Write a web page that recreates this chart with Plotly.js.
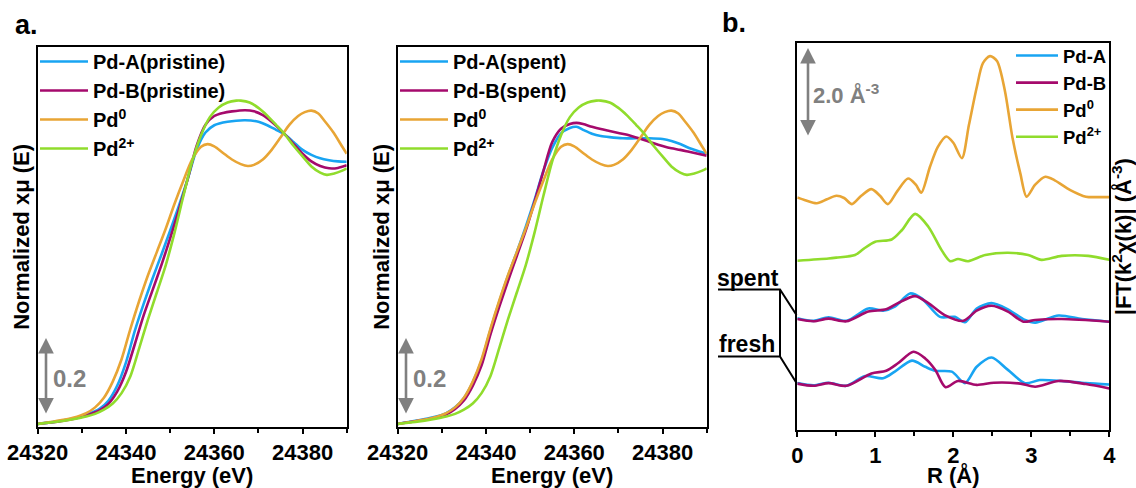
<!DOCTYPE html>
<html><head><meta charset="utf-8">
<script src="https://cdn.plot.ly/plotly-3.0.1.min.js"></script>
<style>html,body{margin:0;padding:0;background:#fff}#chart{width:1136px;height:488px}</style>
</head><body><div id="chart"></div>
<script>
// ---------- XANES (panel a) ----------
const pd0E  = [24320,24324,24328,24331,24333,24335,24337,24339,24341,24343,24345,24347,24349,24351,24353,24355,24357,24358.5,24360,24362,24364,24366,24367.6,24369,24371,24373,24375,24377,24379,24380.5,24382,24383.5,24385,24387,24389,24390];
const pd0Mu = [.008,.015,.024,.036,.051,.076,.118,.176,.255,.328,.395,.455,.515,.58,.64,.695,.728,.735,.729,.712,.695,.683,.678,.681,.695,.72,.752,.785,.808,.818,.822,.815,.795,.765,.728,.71];

const pd2E  = [24320,24324,24328,24331,24333,24335,24337,24339,24341,24343,24345,24347,24349,24351,24353,24355,24357,24359,24361,24363,24365,24366,24368,24370,24372,24374,24376,24378,24380,24382,24384,24385.5,24387,24389,24390];
const pd2Mu = [.008,.013,.02,.027,.034,.045,.061,.088,.132,.205,.28,.35,.42,.505,.6,.69,.758,.805,.83,.843,.848,.848,.843,.829,.809,.785,.76,.73,.703,.677,.661,.655,.658,.666,.672];

const pdAPristineE  = [24320,24324,24328,24331,24334,24336,24338,24340,24342,24344,24346,24348,24350,24352,24354,24356,24358,24360,24363,24367,24370,24372,24374,24376,24378,24380,24382,24384,24386,24388,24390];
const pdAPristineMu = [.008,.014,.022,.032,.047,.068,.107,.168,.25,.32,.385,.447,.51,.575,.645,.72,.765,.784,.793,.797,.793,.784,.772,.76,.74,.72,.707,.698,.693,.69,.689];

const pdBPristineE  = [24320,24324,24328,24331,24334,24336,24338,24340,24342,24344,24346,24348,24350,24352,24354,24356,24358,24360,24362,24364,24367,24369,24371,24373,24375,24376,24378,24380,24382,24384,24386,24388,24390];
const pdBPristineMu = [.008,.013,.021,.03,.043,.06,.092,.143,.215,.29,.355,.42,.49,.565,.645,.73,.785,.808,.816,.82,.823,.82,.81,.793,.772,.76,.735,.71,.69,.678,.672,.673,.68];

const pdASpentE  = [24320,24324,24328,24331,24333,24335,24337,24339,24341,24343,24345,24347,24349,24351,24353,24355,24357,24359,24360.5,24362,24364,24366,24368,24371,24374,24377,24380,24382,24384,24386,24388,24390];
const pdASpentMu = [.008,.016,.025,.036,.051,.075,.116,.172,.252,.325,.393,.455,.52,.59,.665,.725,.763,.777,.78,.772,.762,.756,.753,.75,.75,.75,.748,.743,.735,.725,.717,.71];

const pdBSpentE  = [24320,24324,24328,24331,24333,24335,24337,24339,24341,24343,24345,24347,24349,24351,24353,24355,24357,24359,24360.5,24362,24364,24366,24368,24370,24372,24374,24376,24378,24380,24382,24384,24386,24388,24390];
const pdBSpentMu = [.008,.015,.023,.033,.047,.069,.107,.16,.24,.312,.38,.445,.51,.585,.665,.74,.775,.787,.79,.787,.78,.774,.769,.764,.759,.752,.745,.737,.73,.724,.72,.715,.71,.705];

// ---------- FT-EXAFS (panel b), stacked with offsets as drawn ----------
const ftPd0R = [0,0.1,0.25,0.38,0.5,0.6,0.7,0.82,0.95,1.06,1.16,1.28,1.42,1.52,1.59,1.7,1.8,1.91,2.0,2.11,2.2,2.3,2.38,2.47,2.56,2.66,2.76,2.86,2.94,3.05,3.18,3.3,3.5,3.7,3.85,4.0];
const ftPd0  = [5.26,5.2,5.13,5.22,5.30,5.25,5.11,5.3,5.45,5.3,5.11,5.4,5.69,5.55,5.37,5.95,6.4,6.64,6.5,6.15,6.9,7.75,8.3,8.46,8.35,7.69,6.6,5.8,5.28,5.55,5.73,5.65,5.43,5.28,5.27,5.27];

const ftPd2R = [0,0.4,0.5,0.74,0.85,1.0,1.21,1.34,1.51,1.68,1.85,1.96,2.06,2.19,2.41,2.7,2.96,3.13,3.39,3.73,4.0];
const ftPd2  = [3.83,3.88,3.9,3.96,4.1,4.26,4.31,4.52,4.89,4.60,4.07,3.82,3.87,3.82,3.96,4.01,3.96,3.85,3.94,3.94,3.85];

const ftASpentR = [0,0.21,0.4,0.63,0.91,1.1,1.25,1.445,1.595,1.83,2.02,2.15,2.3,2.49,2.7,2.92,3.05,3.35,3.65,4.0];
const ftASpent  = [2.53,2.47,2.55,2.47,2.75,2.70,2.79,3.09,2.98,2.56,2.56,2.44,2.75,2.87,2.73,2.49,2.43,2.59,2.51,2.45];
const ftBSpentR = [0,0.21,0.4,0.63,0.91,1.14,1.29,1.51,1.68,1.89,2.13,2.3,2.49,2.7,2.9,3.05,3.39,4.0];
const ftBSpent  = [2.51,2.46,2.52,2.46,2.68,2.73,2.87,3.03,2.87,2.60,2.47,2.70,2.81,2.68,2.45,2.49,2.51,2.45];
const ftAFreshR = [0,0.21,0.4,0.63,0.87,1.1,1.25,1.47,1.64,1.77,1.98,2.15,2.3,2.49,2.7,2.92,3.11,3.39,3.7,4.0];
const ftAFresh  = [1.06,1.01,1.07,1.00,1.22,1.17,1.32,1.57,1.43,1.34,1.32,1.06,1.43,1.64,1.36,1.06,1.13,1.11,1.06,1.03];
const ftBFreshR = [0,0.21,0.4,0.63,0.95,1.14,1.29,1.49,1.64,1.77,1.90,2.06,2.3,2.52,2.86,3.05,3.35,3.7,4.0];
const ftBFresh  = [1.05,1.00,1.06,1.00,1.28,1.34,1.51,1.77,1.62,1.36,0.97,1.11,1.02,1.07,1.05,0.98,1.11,1.04,0.94];

const namesA1 = ['Pd-A(pristine)','Pd-B(pristine)','Pd<sup>0</sup>','Pd<sup>2+</sup>'];
const namesA2 = ['Pd-A(spent)','Pd-B(spent)','Pd<sup>0</sup>','Pd<sup>2+</sup>'];
const namesB  = ['Pd-A','Pd-B','Pd<sup>0</sup>','Pd<sup>2+</sup>'];

const BLUE='#18a4f2', MAG='#a50a6c', ORA='#e8a535', GRN='#90dc2c', GRAY='#808080';
const FAM='Liberation Sans, Arial, sans-serif';
const W=1136, H=488;
const px=x=>x/W, py=y=>1-y/H;

function ln(x,y,name,color,xa,ya,leg,show=true,group){
  return {x:x,y:y,name:name,type:'scatter',mode:'lines',xaxis:xa,yaxis:ya,legend:leg,
    showlegend:show,legendgroup:group||name+xa,
    line:{color:color,width:2.6,shape:'spline',smoothing:0.8},hoverinfo:'skip'};
}
const traces=[
  ln(pdAPristineE,pdAPristineMu,namesA1[0],BLUE,'x','y','legend'),
  ln(pdBPristineE,pdBPristineMu,namesA1[1],MAG,'x','y','legend'),
  ln(pd0E,pd0Mu,namesA1[2],ORA,'x','y','legend'),
  ln(pd2E,pd2Mu,namesA1[3],GRN,'x','y','legend'),
  ln(pdASpentE,pdASpentMu,namesA2[0],BLUE,'x2','y2','legend2'),
  ln(pdBSpentE,pdBSpentMu,namesA2[1],MAG,'x2','y2','legend2'),
  ln(pd0E,pd0Mu,namesA2[2],ORA,'x2','y2','legend2'),
  ln(pd2E,pd2Mu,namesA2[3],GRN,'x2','y2','legend2'),
  ln(ftASpentR,ftASpent,namesB[0],BLUE,'x3','y3','legend3',true,'bA'),
  ln(ftBSpentR,ftBSpent,namesB[1],MAG,'x3','y3','legend3',true,'bB'),
  ln(ftPd0R,ftPd0,namesB[2],ORA,'x3','y3','legend3'),
  ln(ftPd2R,ftPd2,namesB[3],GRN,'x3','y3','legend3'),
  ln(ftAFreshR,ftAFresh,namesB[0],BLUE,'x3','y3','legend3',false,'bA'),
  ln(ftBFreshR,ftBFresh,namesB[1],MAG,'x3','y3','legend3',false,'bB')
];

const bold=(s,c)=>({family:FAM,size:s,color:c||'#000',weight:700});
const frame={showline:true,mirror:true,linecolor:'#000',linewidth:2,showgrid:false,zeroline:false,automargin:false};
function xax(dom,range,dtick,minor,title,anchor,fmt){
  return Object.assign({},frame,{domain:dom,range:range,anchor:anchor,tick0:range[0],dtick:dtick,
    tickformat:fmt||'',ticks:'outside',ticklen:5,tickwidth:2,tickcolor:'#000',
    minor:{dtick:minor,ticks:'outside',ticklen:4,tickwidth:2,tickcolor:'#000'},
    tickfont:bold(22),ticklabelstandoff:0,title:{text:title,font:bold(22),standoff:7}});
}
function yax(dom,range,title,anchor,side,so){
  return Object.assign({},frame,{domain:dom,range:range,anchor:anchor,side:side||'left',
    showticklabels:false,ticks:'',title:{text:title,font:bold(22),standoff:so}});
}
const legStyle=(x,y,size,iw)=>({x:px(x),y:py(y),xanchor:'left',yanchor:'top',bgcolor:'rgba(0,0,0,0)',
  borderwidth:0,font:bold(size),itemwidth:iw,tracegroupgap:0});

function arrow(x,y0,y1){
  return {xref:'paper',yref:'paper',x:px(x),y:py(y0),ax:0,ay:y1-y0,axref:'pixel',ayref:'pixel',text:'',
    showarrow:true,arrowside:'end+start',arrowhead:2,startarrowhead:2,arrowsize:1.2,startarrowsize:1.2,
    arrowwidth:2.6,arrowcolor:GRAY,standoff:0,startstandoff:0};
}
function label(x,y,text,size,color,xanchor){
  return {xref:'paper',yref:'paper',x:px(x),y:py(y),text:text,showarrow:false,
    xanchor:xanchor||'left',yanchor:'middle',font:bold(size,color)};
}

const layout={
  width:W,height:H,margin:{l:0,r:0,t:0,b:0},paper_bgcolor:'#fff',plot_bgcolor:'#fff',
  xaxis:xax([px(37.7),px(346.7)],[24320,24390],20,10,'Energy (eV)','y','d'),
  yaxis:yax([py(427),py(46.7)],[0,0.988],'Normalized xμ (E)','x','left',0),
  xaxis2:xax([px(397.7),px(706.7)],[24320,24390],20,10,'Energy (eV)','y2','d'),
  yaxis2:yax([py(427),py(46.7)],[0,0.988],'Normalized xμ (E)','x2','left',0),
  xaxis3:xax([px(797.3),px(1109.3)],[0,4],1,0.5,'R (Å)','y3','d'),
  yaxis3:yax([py(430),py(43.3)],[0,8.75],'|FT(k<sup>2</sup>χ(k)| (Å<sup>-3</sup>)','x3','right',24),
  legend:legStyle(35,42,20,48),
  legend2:legStyle(395,42,20,48),
  legend3:legStyle(1011,37,18.5,42),
  annotations:[
    label(13,25,'a.',27),
    label(720,23,'b.',27),
    arrow(46,338,415), label(51,378,'0.2',24,GRAY),
    arrow(406,338,415), label(411,378,'0.2',24,GRAY),
    arrow(808,48,137), label(811,94,'2.0 Å<sup>-3</sup>',22,GRAY),
    label(748,278,'spent',23,'#000','center'),
    label(747,344,'fresh',23,'#000','center')
  ],
  shapes:[
    {type:'path',xref:'paper',yref:'paper',path:`M${px(718)},${py(289.5)} L${px(780)},${py(289.5)} L${px(796.5)},${py(315)}`,line:{color:'#000',width:2}},
    {type:'path',xref:'paper',yref:'paper',path:`M${px(718)},${py(356.5)} L${px(780)},${py(356.5)} L${px(796.5)},${py(383)}`,line:{color:'#000',width:2}},
    {type:'line',xref:'paper',yref:'paper',x0:px(780),x1:px(780),y0:py(289.5),y1:py(356.5),line:{color:'#000',width:2}}
  ]
};
Plotly.newPlot('chart',traces,layout,{displayModeBar:false,staticPlot:true});
</script></body></html>
